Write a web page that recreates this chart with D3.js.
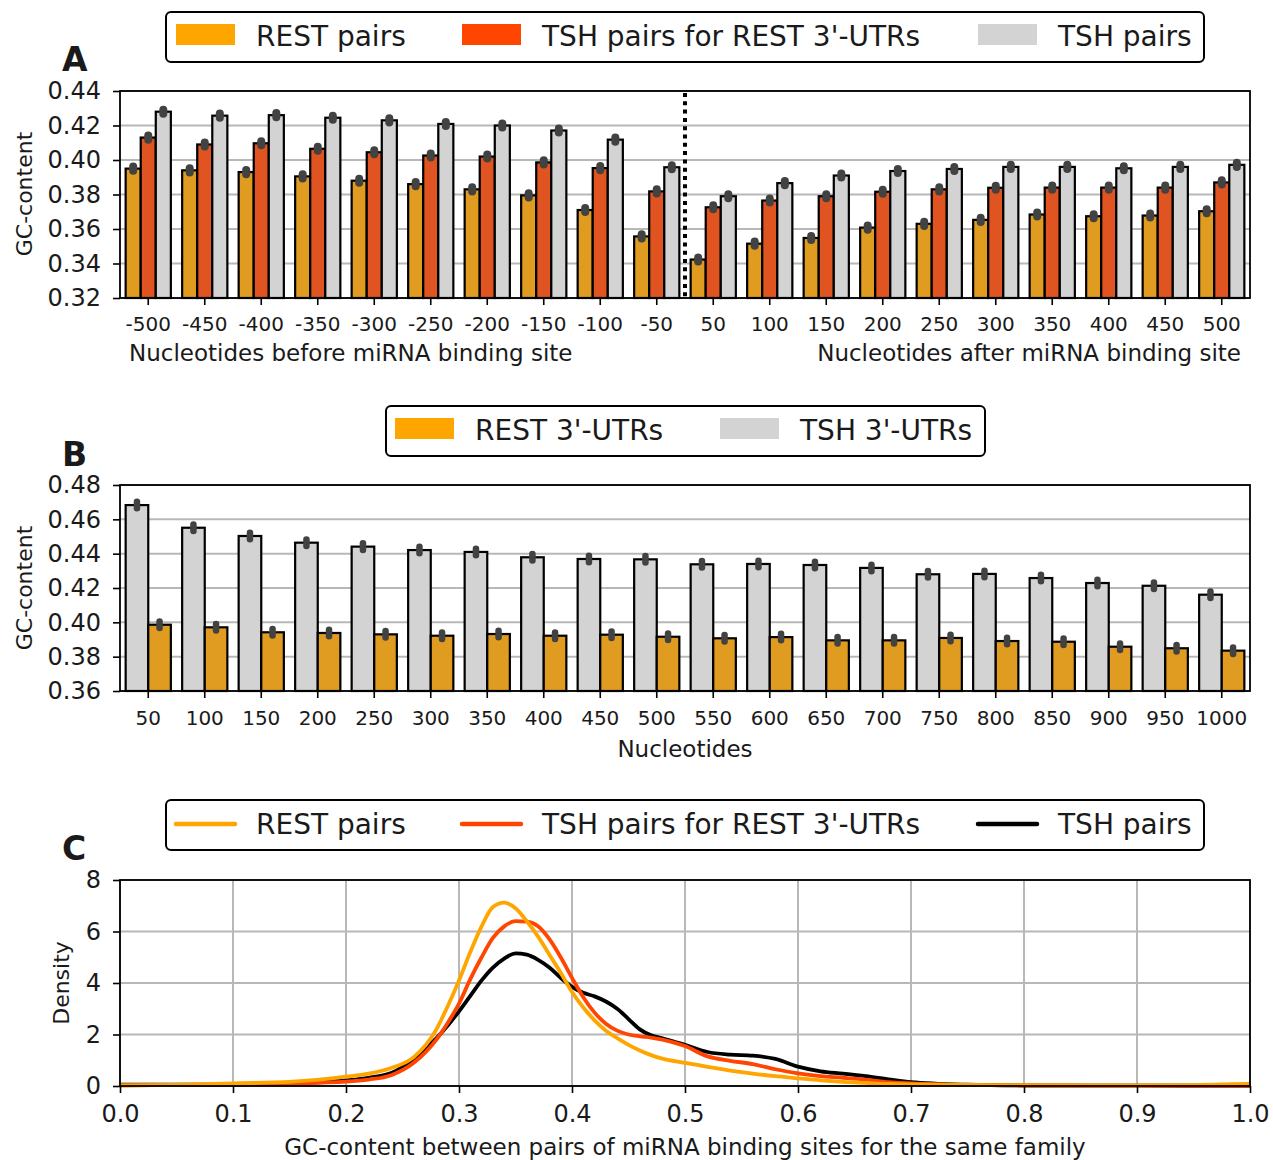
<!DOCTYPE html>
<html>
<head>
<meta charset="utf-8">
<script src="https://cdn.jsdelivr.net/npm/d3@7"></script>
<style>
body { margin: 0; background: #fff; }
text { font-family: "DejaVu Sans", sans-serif; fill: #1a1a1a; }
</style>
</head>
<body>
<svg id="chart"></svg>
<script>
// ---- panel A data ----
let posLabels = ["-500", "-450", "-400", "-350", "-300", "-250", "-200", "-150", "-100", "-50",
    "50", "100", "150", "200", "250", "300", "350", "400", "450", "500"];
let restPairs = [0.395, 0.394, 0.393, 0.3905, 0.388, 0.386, 0.383, 0.3795, 0.371, 0.3557,
    0.3423, 0.3515, 0.3548, 0.3608, 0.363, 0.3653, 0.3684, 0.3674, 0.3678, 0.3703];
let tshRestPairs = [0.413, 0.409, 0.4097, 0.4065, 0.4045, 0.4026, 0.402, 0.3986, 0.3953, 0.3818,
    0.3726, 0.3765, 0.379, 0.3816, 0.383, 0.3839, 0.384, 0.384, 0.384, 0.387];
let tshPairs = [0.428, 0.4257, 0.426, 0.4245, 0.423, 0.4209, 0.42, 0.4171, 0.4118, 0.3958,
    0.379, 0.3866, 0.391, 0.3936, 0.3948, 0.396, 0.396, 0.3952, 0.396, 0.3972];
let yTicksA = [0.32, 0.34, 0.36, 0.38, 0.40, 0.42, 0.44];

// ---- panel B data ----
let ntLabels = ["50", "100", "150", "200", "250", "300", "350", "400", "450", "500",
    "550", "600", "650", "700", "750", "800", "850", "900", "950", "1000"];
let tshUtrs = [0.4683, 0.4551, 0.4503, 0.4464, 0.4441, 0.4421, 0.441, 0.4379, 0.4369, 0.4367,
    0.4338, 0.434, 0.4334, 0.4317, 0.428, 0.4282, 0.4258, 0.4229, 0.4213, 0.4161];
let restUtrs = [0.3986, 0.3971, 0.3942, 0.3938, 0.393, 0.3922, 0.3932, 0.3922, 0.3928, 0.3916,
    0.3907, 0.3914, 0.3895, 0.3895, 0.3909, 0.3891, 0.3887, 0.3858, 0.3849, 0.3835];
let yTicksB = [0.36, 0.38, 0.40, 0.42, 0.44, 0.46, 0.48];

// ---- panel C data (density curves) ----
let gcX = [0, 0.05, 0.1, 0.15, 0.2, 0.22, 0.24, 0.26, 0.28, 0.29, 0.3, 0.31, 0.32, 0.33, 0.34, 0.35,
    0.36, 0.37, 0.38, 0.39, 0.4, 0.41, 0.42, 0.43, 0.44, 0.45, 0.46, 0.47, 0.48, 0.5, 0.52,
    0.54, 0.56, 0.58, 0.6, 0.62, 0.64, 0.66, 0.68, 0.7, 0.75, 0.8, 0.9, 1.0];
let densRest = [0.02, 0.04, 0.1, 0.16, 0.36, 0.48, 0.7, 1.12, 2.2, 3.1, 4.1, 5.2, 6.2, 6.95, 7.12, 6.9,
    6.4, 5.8, 5.1, 4.4, 3.65, 3.05, 2.55, 2.15, 1.86, 1.6, 1.38, 1.2, 1.06, 0.9, 0.74,
    0.6, 0.48, 0.38, 0.3, 0.22, 0.16, 0.12, 0.08, 0.06, 0.04, 0.03, 0.02, 0.08];
let densTshRest = [0.03, 0.04, 0.06, 0.1, 0.17, 0.25, 0.42, 0.9, 1.8, 2.45, 3.2, 4.15, 5.0, 5.75, 6.2, 6.4,
    6.38, 6.2, 5.7, 5.0, 4.2, 3.45, 2.85, 2.42, 2.15, 2.0, 1.93, 1.88, 1.8, 1.55, 1.15,
    0.98, 0.85, 0.65, 0.49, 0.38, 0.32, 0.25, 0.15, 0.1, 0.04, 0.02, 0.01, 0.01];
let densTsh = [0.05, 0.05, 0.06, 0.1, 0.22, 0.32, 0.5, 1.05, 1.85, 2.35, 2.9, 3.5, 4.1, 4.6, 4.95, 5.15,
    5.1, 4.9, 4.6, 4.2, 3.85, 3.62, 3.48, 3.28, 3.0, 2.6, 2.2, 1.97, 1.85, 1.6, 1.32,
    1.22, 1.18, 1.05, 0.75, 0.57, 0.48, 0.38, 0.26, 0.15, 0.05, 0.02, 0.01, 0.01];
let xTicksC = [0, 0.1, 0.2, 0.3, 0.4, 0.5, 0.6, 0.7, 0.8, 0.9, 1.0];
let yTicksC = [0, 2, 4, 6, 8];

let w = 1273;
let h = 1160;
let left = 120, right = 1250;
let gridColor = "#b8b8b8";

let svg = d3.select("#chart")
    .attr("width", w)
    .attr("height", h);
svg.append("rect").attr("width", w).attr("height", h).attr("fill", "#fff");

function hGrid(g, yScale, ticks) {
    g.selectAll(null)
        .data(ticks)
        .enter()
        .append("line")
        .attr("x1", left).attr("x2", right)
        .attr("y1", function(d) { return yScale(d); })
        .attr("y2", function(d) { return yScale(d); })
        .attr("stroke", gridColor)
        .attr("stroke-width", 2);
}

function styleAxis(g, size) {
    g.select(".domain").remove();
    g.selectAll(".tick line").attr("stroke", "#000").attr("stroke-width", 1.6);
    g.selectAll(".tick text")
        .attr("font-size", size + "px")
        .attr("font-family", "DejaVu Sans")
        .attr("fill", "#1a1a1a");
}

function frame(top, bottom) {
    svg.append("rect")
        .attr("x", left).attr("y", top)
        .attr("width", right - left).attr("height", bottom - top)
        .attr("fill", "none")
        .attr("stroke", "#000")
        .attr("stroke-width", 1.8);
}

function legend(x, y, width, items) {
    let g = svg.append("g");
    g.append("rect")
        .attr("x", x).attr("y", y)
        .attr("width", width).attr("height", 50)
        .attr("rx", 5)
        .attr("fill", "#fff")
        .attr("stroke", "#000")
        .attr("stroke-width", 2);
    items.forEach(function(it) {
        if (it.line) {
            g.append("line")
                .attr("x1", it.x).attr("x2", it.x + 59)
                .attr("y1", y + 24).attr("y2", y + 24)
                .attr("stroke", it.color)
                .attr("stroke-width", 4.5)
                .attr("stroke-linecap", "round");
        } else {
            g.append("rect")
                .attr("x", it.x).attr("y", y + 12)
                .attr("width", 59).attr("height", 21)
                .attr("fill", it.color);
        }
        g.append("text")
            .attr("x", it.x + 80).attr("y", y + 34)
            .attr("font-size", "28px")
            .text(it.label);
    });
}

function yLabel(x, y, label) {
    svg.append("text")
        .attr("transform", "translate(" + x + "," + y + ") rotate(-90)")
        .attr("text-anchor", "middle")
        .attr("font-size", "22px")
        .text(label);
}

function panelLetter(x, y, letter) {
    svg.append("text")
        .attr("x", x).attr("y", y)
        .attr("font-size", "33px")
        .attr("font-weight", "bold")
        .text(letter);
}

// ================= Panel A =================
let aTop = 91, aBot = 298;
let xA = d3.scaleBand().domain(posLabels).range([left, right]);
let yA = d3.scaleLinear().domain([0.32, 0.44]).range([aBot, aTop]);
let subA = d3.scaleBand().domain([0, 1, 2]).range([0, xA.bandwidth() * 0.8]);
let ciA = 0.0012;

let seriesA = [
    { values: restPairs, fill: "#df9c20" },
    { values: tshRestPairs, fill: "#df5420" },
    { values: tshPairs, fill: "#d3d3d3" }
];

let gA = svg.append("g");
hGrid(gA, yA, yTicksA);

seriesA.forEach(function(s, si) {
    gA.selectAll(null)
        .data(s.values)
        .enter()
        .append("rect")
        .attr("x", function(d, i) { return xA(posLabels[i]) + xA.bandwidth() * 0.1 + subA(si); })
        .attr("y", function(d) { return yA(d); })
        .attr("width", subA.bandwidth())
        .attr("height", function(d) { return aBot - yA(d); })
        .attr("fill", s.fill)
        .attr("stroke", "#000")
        .attr("stroke-width", 2.2);
});
seriesA.forEach(function(s, si) {
    gA.selectAll(null)
        .data(s.values)
        .enter()
        .append("line")
        .attr("x1", function(d, i) { return xA(posLabels[i]) + xA.bandwidth() * 0.1 + subA(si) + subA.bandwidth() / 2; })
        .attr("x2", function(d, i) { return xA(posLabels[i]) + xA.bandwidth() * 0.1 + subA(si) + subA.bandwidth() / 2; })
        .attr("y1", function(d) { return yA(d - ciA); })
        .attr("y2", function(d) { return yA(d + ciA); })
        .attr("stroke", "#424242")
        .attr("stroke-width", 8)
        .attr("stroke-linecap", "round");
});

// dotted divider between before / after
gA.append("line")
    .attr("x1", xA("50")).attr("x2", xA("50"))
    .attr("y1", aTop + 2).attr("y2", aBot)
    .attr("stroke", "#000")
    .attr("stroke-width", 4)
    .attr("stroke-dasharray", "4,4.3");

frame(aTop, aBot);

svg.append("g")
    .attr("transform", "translate(0," + aBot + ")")
    .call(d3.axisBottom(xA).tickSize(7).tickPadding(12))
    .call(function(g) { styleAxis(g, 20); });
svg.append("g")
    .attr("transform", "translate(" + left + ",0)")
    .call(d3.axisLeft(yA).tickValues(yTicksA).tickFormat(d3.format(".2f")).tickSize(7).tickPadding(12))
    .call(function(g) { styleAxis(g, 24); });

svg.append("text")
    .attr("x", 129).attr("y", 361)
    .attr("font-size", "23px")
    .text("Nucleotides before miRNA binding site");
svg.append("text")
    .attr("x", 1241).attr("y", 361)
    .attr("text-anchor", "end")
    .attr("font-size", "23px")
    .text("Nucleotides after miRNA binding site");
yLabel(32, 194, "GC-content");
panelLetter(62, 71, "A");

legend(166, 12, 1038, [
    { x: 176, color: "#ffa500", label: "REST pairs" },
    { x: 462, color: "#ff4500", label: "TSH pairs for REST 3'-UTRs" },
    { x: 978, color: "#d3d3d3", label: "TSH pairs" }
]);

// ================= Panel B =================
let bTop = 485, bBot = 691;
let xB = d3.scaleBand().domain(ntLabels).range([left, right]);
let yB = d3.scaleLinear().domain([0.36, 0.48]).range([bBot, bTop]);
let subB = d3.scaleBand().domain([0, 1]).range([0, xB.bandwidth() * 0.8]);
let ciB = 0.0019;

let seriesB = [
    { values: tshUtrs, fill: "#d3d3d3" },
    { values: restUtrs, fill: "#df9c20" }
];

let gB = svg.append("g");
hGrid(gB, yB, yTicksB);

seriesB.forEach(function(s, si) {
    gB.selectAll(null)
        .data(s.values)
        .enter()
        .append("rect")
        .attr("x", function(d, i) { return xB(ntLabels[i]) + xB.bandwidth() * 0.1 + subB(si); })
        .attr("y", function(d) { return yB(d); })
        .attr("width", subB.bandwidth())
        .attr("height", function(d) { return bBot - yB(d); })
        .attr("fill", s.fill)
        .attr("stroke", "#000")
        .attr("stroke-width", 2.2);
});
seriesB.forEach(function(s, si) {
    gB.selectAll(null)
        .data(s.values)
        .enter()
        .append("line")
        .attr("x1", function(d, i) { return xB(ntLabels[i]) + xB.bandwidth() * 0.1 + subB(si) + subB.bandwidth() / 2; })
        .attr("x2", function(d, i) { return xB(ntLabels[i]) + xB.bandwidth() * 0.1 + subB(si) + subB.bandwidth() / 2; })
        .attr("y1", function(d) { return yB(d - ciB); })
        .attr("y2", function(d) { return yB(d + ciB); })
        .attr("stroke", "#424242")
        .attr("stroke-width", 6.5)
        .attr("stroke-linecap", "round");
});

frame(bTop, bBot);

svg.append("g")
    .attr("transform", "translate(0," + bBot + ")")
    .call(d3.axisBottom(xB).tickSize(7).tickPadding(13))
    .call(function(g) { styleAxis(g, 20); });
svg.append("g")
    .attr("transform", "translate(" + left + ",0)")
    .call(d3.axisLeft(yB).tickValues(yTicksB).tickFormat(d3.format(".2f")).tickSize(7).tickPadding(12))
    .call(function(g) { styleAxis(g, 24); });

svg.append("text")
    .attr("x", 685).attr("y", 757)
    .attr("text-anchor", "middle")
    .attr("font-size", "23px")
    .text("Nucleotides");
yLabel(32, 588, "GC-content");
panelLetter(62, 466, "B");

legend(386, 406, 599, [
    { x: 395, color: "#ffa500", label: "REST 3'-UTRs" },
    { x: 720, color: "#d3d3d3", label: "TSH 3'-UTRs" }
]);

// ================= Panel C =================
let cTop = 880, cBot = 1086;
let xC = d3.scaleLinear().domain([0, 1]).range([left, right]);
let yC = d3.scaleLinear().domain([0, 8]).range([cBot, cTop]);

let gC = svg.append("g");
hGrid(gC, yC, yTicksC);
gC.selectAll(null)
    .data(xTicksC)
    .enter()
    .append("line")
    .attr("x1", function(d) { return xC(d); })
    .attr("x2", function(d) { return xC(d); })
    .attr("y1", cTop).attr("y2", cBot)
    .attr("stroke", gridColor)
    .attr("stroke-width", 2);

let densLine = d3.line()
    .x(function(d, i) { return xC(gcX[i]); })
    .y(function(d) { return yC(d); })
    .curve(d3.curveMonotoneX);

let curves = [
    { values: densTsh, color: "#000000" },
    { values: densTshRest, color: "#ff4500" },
    { values: densRest, color: "#ffa500" }
];
curves.forEach(function(c) {
    gC.append("path")
        .attr("d", densLine(c.values))
        .attr("fill", "none")
        .attr("stroke", c.color)
        .attr("stroke-width", 3.8)
        .attr("stroke-linejoin", "round");
});

frame(cTop, cBot);

svg.append("g")
    .attr("transform", "translate(0," + cBot + ")")
    .call(d3.axisBottom(xC).tickValues(xTicksC).tickFormat(d3.format(".1f")).tickSize(7).tickPadding(12))
    .call(function(g) { styleAxis(g, 24); });
svg.append("g")
    .attr("transform", "translate(" + left + ",0)")
    .call(d3.axisLeft(yC).tickValues(yTicksC).tickFormat(d3.format("d")).tickSize(7).tickPadding(12))
    .call(function(g) { styleAxis(g, 24); });

svg.append("text")
    .attr("x", 685).attr("y", 1155)
    .attr("text-anchor", "middle")
    .attr("font-size", "23px")
    .text("GC-content between pairs of miRNA binding sites for the same family");
yLabel(69, 983, "Density");
panelLetter(62, 860, "C");

legend(166, 800, 1038, [
    { x: 176, color: "#ffa500", label: "REST pairs", line: true },
    { x: 462, color: "#ff4500", label: "TSH pairs for REST 3'-UTRs", line: true },
    { x: 978, color: "#000000", label: "TSH pairs", line: true }
]);
</script>
</body>
</html>
